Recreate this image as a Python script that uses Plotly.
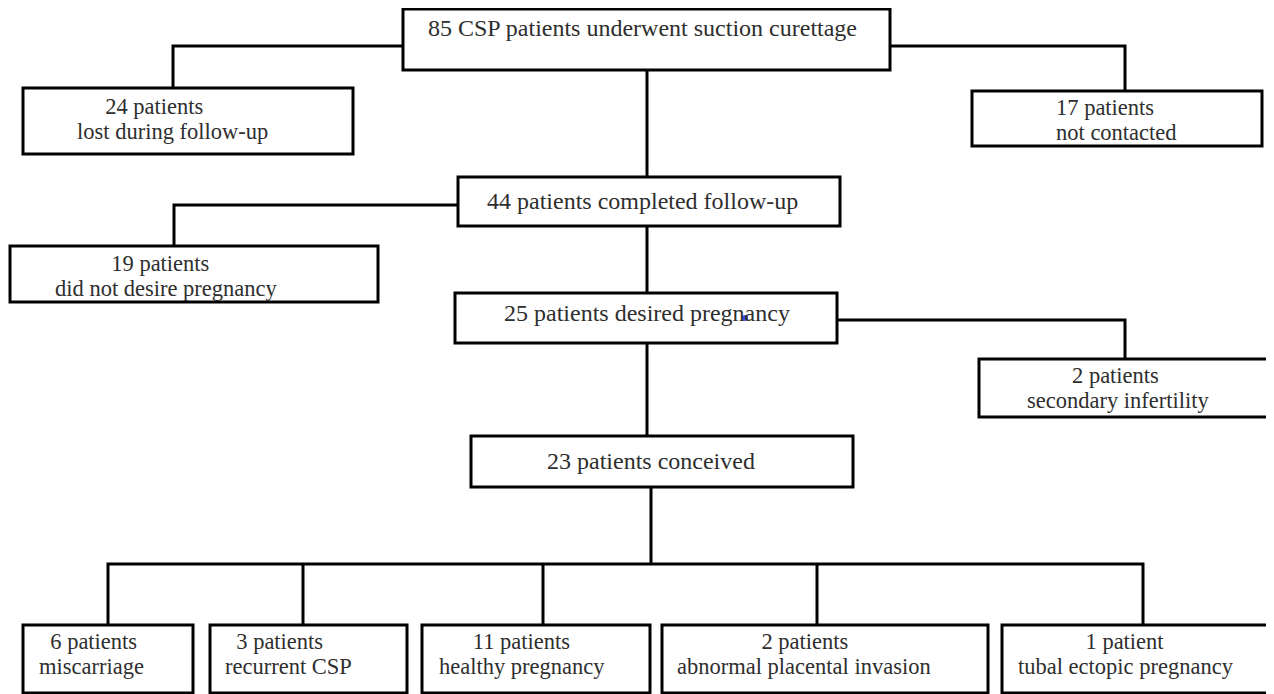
import plotly.graph_objects as go

# ---- data: flowchart node contents ----
counts = [85, 24, 17, 44, 19, 25, 2, 23, 6, 3, 11, 2, 1]
line1 = ["85 CSP patients underwent suction curettage", "24 patients", "17 patients",
         "44 patients completed follow-up", "19 patients", "25 patients desired pregnancy",
         "2 patients", "23 patients conceived", "6 patients", "3 patients", "11 patients",
         "2 patients", "1 patient"]
line2 = ["", "lost during follow-up", "not contacted", "", "did not desire pregnancy", "",
         "secondary infertility", "", "miscarriage", "recurrent CSP", "healthy pregnancy",
         "abnormal placental invasion", "tubal ectopic pregnancy"]

# ---- layout geometry (page pixels) ----
boxes = [  # x0, x1, y0, y1
    (403, 890, 9, 70), (23, 353, 88, 154), (972, 1262, 91, 146),
    (458, 840, 177, 226), (10, 378, 246, 302), (455, 837, 293, 343),
    (979, 1269, 359, 417), (471, 853, 436, 487),
    (23, 193, 625, 693), (210, 407, 625, 693), (422, 650, 625, 693),
    (662, 988, 625, 693), (1002, 1272, 625, 693),
]
# (x, y, xanchor, indent of first line in spaces)
text_pos = [
    (642, 28, "center", 0), (75, 119, "left", 5), (1054, 120, "left", 0),
    (642, 201, "center", 0), (53, 276, "left", 10), (647, 313, "center", 0),
    (1025, 388, "left", 8), (651, 461, "center", 0),
    (37, 654, "left", 2), (223, 654, "left", 2), (437, 654, "left", 6),
    (675, 654, "left", 15), (1016, 654, "left", 12),
]
connectors = [
    [(403, 46), (173, 46), (173, 88)],
    [(890, 46), (1125, 46), (1125, 91)],
    [(647, 70), (647, 177)],
    [(458, 205), (174, 205), (174, 246)],
    [(647, 226), (647, 293)],
    [(837, 320), (1125, 320), (1125, 359)],
    [(647, 343), (647, 436)],
    [(651, 487), (651, 564)],
    [(108, 625), (108, 564), (1143, 564), (1143, 625)],
    [(303, 564), (303, 625)],
    [(543, 564), (543, 625)],
    [(817, 564), (817, 625)],
]

FAMILY = "Liberation Serif, Times New Roman, serif"
TXT_COLOR = "#2e2e2e"
BIG = 24        # single-line boxes
TWO = 22.5      # two-line boxes
BASE = 19.3     # sets the line spacing of two-line boxes

fig = go.Figure()
shapes = []
for pts in connectors:
    path = "M " + " L ".join(f"{x},{y}" for x, y in pts)
    shapes.append(dict(type="path", path=path, xref="x", yref="y",
                       line=dict(color="black", width=3)))
for (x0, x1, y0, y1) in boxes:
    shapes.append(dict(type="rect", x0=x0, x1=x1, y0=y0, y1=y1, xref="x", yref="y",
                       line=dict(color="black", width=3), fillcolor="white"))
# stray blue dot in original
shapes.append(dict(type="circle", x0=742, x1=748, y0=315, y1=321, xref="x", yref="y",
                   line=dict(width=0), fillcolor="#3b4fe6"))

annotations = []
for t1, t2, (x, y, xa, ind) in zip(line1, line2, text_pos):
    if t2:
        s = f'<span style="font-size:{TWO}px">'
        text = s + "&nbsp;" * ind + t1 + "</span><br>" + s + t2 + "</span>"
        font = dict(family=FAMILY, size=BASE, color=TXT_COLOR)
        align = "left"
    else:
        text = t1
        font = dict(family=FAMILY, size=BIG, color=TXT_COLOR)
        align = "center"
    annotations.append(dict(x=x, y=y, text=text, showarrow=False, xref="x", yref="y",
                            xanchor=xa, yanchor="middle", align=align, font=font))

fig.add_trace(go.Scatter(x=[8, 1274], y=[8, 694], mode="markers",
                         marker=dict(opacity=0), hoverinfo="skip", showlegend=False))
# the page body has an 8px margin, so the figure starts at page pixel 8
fig.update_layout(
    width=1266, height=686, margin=dict(l=0, r=0, t=0, b=0),
    paper_bgcolor="white", plot_bgcolor="white",
    xaxis=dict(range=[8, 1274], visible=False, fixedrange=True),
    yaxis=dict(range=[694, 8], visible=False, fixedrange=True),
    shapes=shapes, annotations=annotations, showlegend=False,
)
fig.write_html("out.html")
